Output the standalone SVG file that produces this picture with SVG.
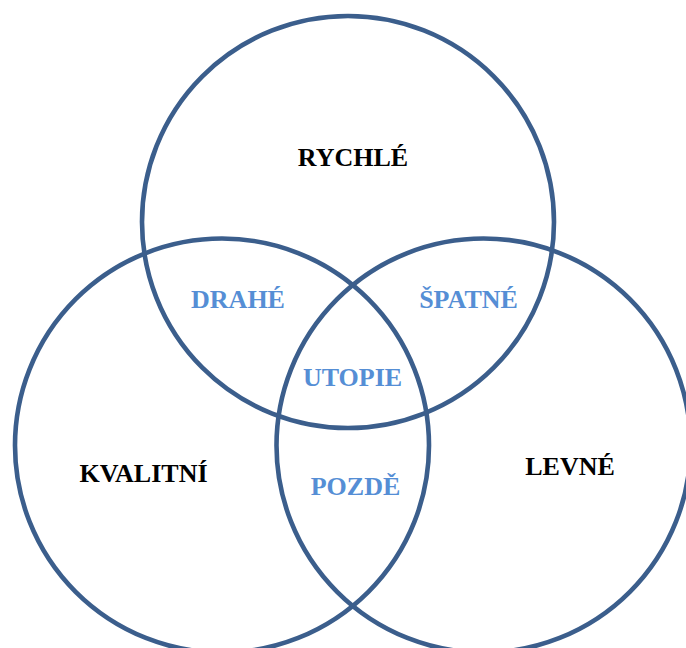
<svg xmlns="http://www.w3.org/2000/svg" width="686" height="648" viewBox="0 0 686 648">
<style>
.c{fill:none;stroke:#3B5E8C;stroke-width:4.6}
.t{font-family:"Liberation Serif","Times New Roman",serif;font-weight:bold;font-size:26px;text-anchor:middle}
.k{fill:#000}
.b{fill:#558ED5}
</style>
<rect width="686" height="648" fill="#fff"/>
<g id="rychle"><circle class="c" cx="348" cy="222" r="206"/><text class="t k" x="353" y="166">RYCHLÉ</text></g>
<g id="kvalitni"><circle class="c" cx="222" cy="445.5" r="207"/><text class="t k" x="143.5" y="482">KVALITNÍ</text></g>
<g id="levne"><circle class="c" cx="483.5" cy="445.5" r="207"/><text class="t k" x="570" y="475">LEVNÉ</text></g>
<g id="drahe"><text class="t b" x="238" y="308">DRAHÉ</text></g>
<g id="spatne"><text class="t b" x="468.5" y="308">ŠPATNÉ</text></g>
<g id="utopie"><text class="t b" x="352.5" y="385.5">UTOPIE</text></g>
<g id="pozde"><text class="t b" x="355.5" y="494.5">POZDĚ</text></g>
<g id="connectors"></g>
</svg>
